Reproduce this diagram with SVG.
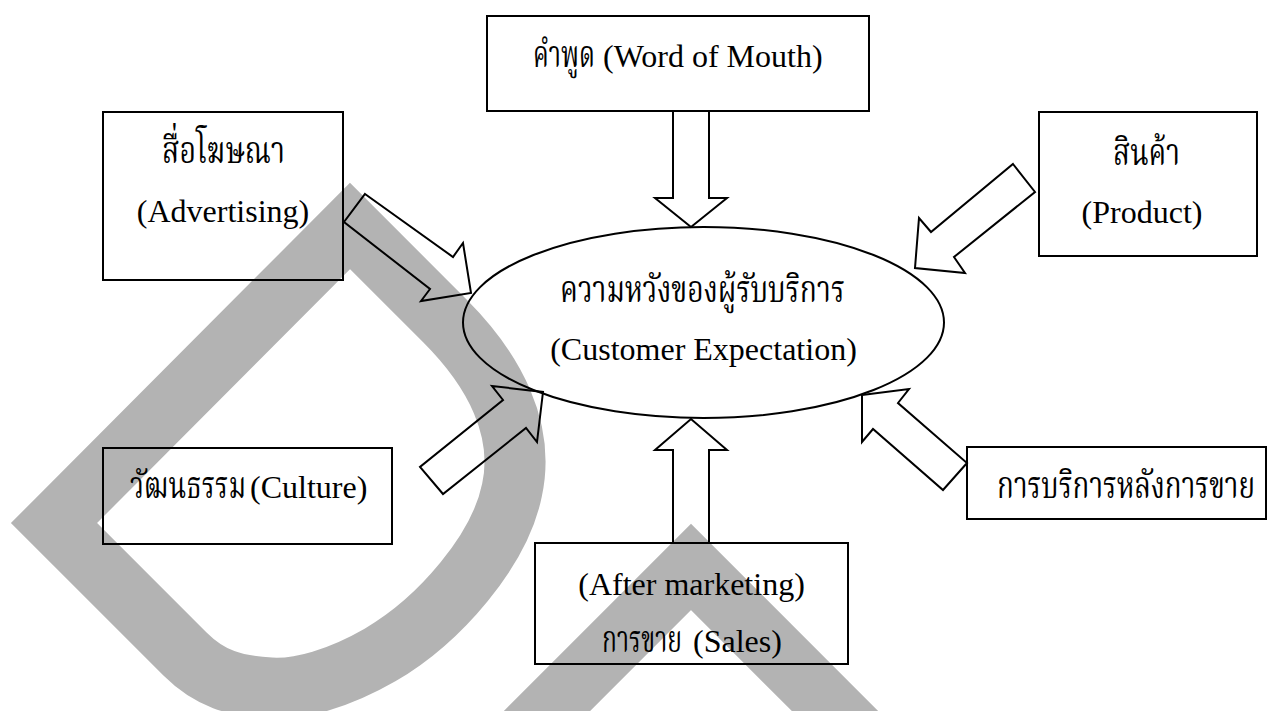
<svg xmlns="http://www.w3.org/2000/svg" width="1269" height="711" viewBox="0 0 1269 711">
<style>
.box{fill:none;stroke:#000;stroke-width:2}
.arr{fill:none;stroke:#000;stroke-width:2;stroke-linejoin:miter}
.wm{fill:none;stroke:#b3b3b3;stroke-width:61;stroke-linejoin:miter;stroke-miterlimit:10}
text{font-family:"Liberation Serif","DejaVu Serif",serif;font-size:32px;fill:#000}
.c{text-anchor:middle}
.th{font-family:"Norasi","Noto Serif Thai","Liberation Serif","DejaVu Serif",serif;font-size:38px}
</style>
<rect width="1269" height="711" fill="#fff"/>
<g id="watermark">
<path class="wm" d="M54,523 L350,226 L445,321 C495,371 525,430 512,490 C500,550 440,620 380,655 C340,678 300,690 270,688 C235,686 210,679 185,654 Z"/>
<path class="wm" d="M471,787 L691,567 L911,787"/>
</g>
<g id="connectors">
<polygon class="arr" points="673,111 709,111 709,198 727,198 691,227 655,198 673,198"/>
<polygon class="arr" points="673,543 709,543 709,450 727,450 691,419 655,450 673,450"/>
<polygon class="arr" points="365,194 453,257 463,243 471,293 421,301 430,289 344,222"/>
<polygon class="arr" points="543,392 537,442 526,428 443,494 420,467 503,400 492,386"/>
<polygon class="arr" points="1013,164 1035,192 954,257 965,273 915,268 919,218 931,232"/>
<polygon class="arr" points="862,395 909,389 898,403 967,463 943,490 873,429 862,442"/>
</g>
<g id="center">
<ellipse class="box" cx="703.5" cy="322.5" rx="240.5" ry="95.5"/>
<text class="th" x="560" y="302" textLength="285" lengthAdjust="spacingAndGlyphs">ความหวังของผู้รับบริการ</text>
<text class="c" x="703.5" y="360">(Customer Expectation)</text>
</g>
<g id="word-of-mouth">
<rect class="box" x="487" y="16" width="382" height="95"/>
<text class="th" x="533" y="67" textLength="62" lengthAdjust="spacingAndGlyphs">คำพูด</text>
<text x="603" y="67">(Word of Mouth)</text>
</g>
<g id="advertising">
<rect class="box" x="103" y="112" width="240" height="168"/>
<text class="th" x="162" y="163" textLength="123" lengthAdjust="spacingAndGlyphs">สื่อโฆษณา</text>
<text class="c" x="223" y="222">(Advertising)</text>
</g>
<g id="product">
<rect class="box" x="1039" y="112" width="218" height="144"/>
<text class="th" x="1113" y="165" textLength="67" lengthAdjust="spacingAndGlyphs">สินค้า</text>
<text class="c" x="1142" y="223">(Product)</text>
</g>
<g id="culture">
<rect class="box" x="103" y="448" width="289" height="96"/>
<text class="th" x="130" y="498" textLength="116" lengthAdjust="spacingAndGlyphs">วัฒนธรรม</text>
<text x="250" y="498">(Culture)</text>
</g>
<g id="after-sales">
<rect class="box" x="967" y="447" width="299" height="72"/>
<text class="th" x="997" y="498" textLength="258" lengthAdjust="spacingAndGlyphs">การบริการหลังการขาย</text>
</g>
<g id="sales">
<rect class="box" x="535" y="543" width="313" height="121"/>
<text class="c" x="691.5" y="595">(After marketing)</text>
<text class="th" x="602" y="652" textLength="80" lengthAdjust="spacingAndGlyphs">การขาย</text>
<text x="693" y="652">(Sales)</text>
</g>
</svg>
